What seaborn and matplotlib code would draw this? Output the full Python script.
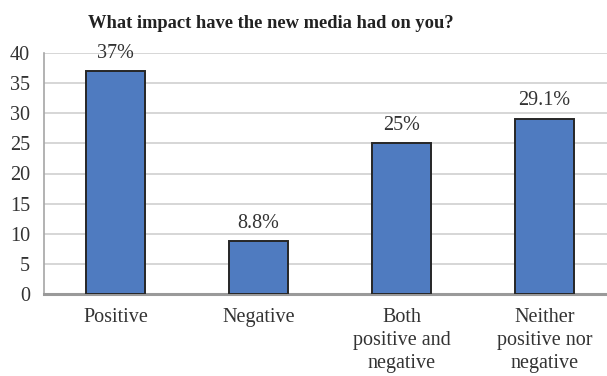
import matplotlib
matplotlib.use("Agg")
import matplotlib.pyplot as plt
import seaborn as sns
import pandas as pd

categories = ["Positive", "Negative", "Both\npositive and\nnegative", "Neither\npositive nor\nnegative"]
values = [37, 8.8, 25, 29.1]
value_labels = ["37%", "8.8%", "25%", "29.1%"]
y_ticks = [0, 5, 10, 15, 20, 25, 30, 35, 40]

sns.set_theme(style="white")
plt.rcParams["font.family"] = ["Liberation Serif", "DejaVu Serif"]

df = pd.DataFrame({"category": categories, "value": values})

fig = plt.figure(figsize=(6.07, 3.76), dpi=100)
ax = fig.add_axes([44 / 607, 82 / 376, 572 / 607, 241 / 376])

sns.barplot(data=df, x="category", y="value", ax=ax, color="#4F7BC0",
            saturation=1, width=0.41, edgecolor="#262626", linewidth=1.4, zorder=3)

ax.set_ylim(0, 40)
ax.set_xlim(-0.5, 3.5)
ax.set_yticks(y_ticks)
ax.set_yticklabels([str(t) for t in y_ticks], fontsize=14.5, color="#333333")
ax.tick_params(axis="x", labelsize=14.5, labelcolor="#333333", length=0, pad=10)
ax.tick_params(axis="y", length=0, pad=10)
for lbl in ax.get_xticklabels():
    lbl.set_linespacing(1.28)
ax.set_xlabel("")
ax.set_ylabel("")

ax.yaxis.grid(True, color="#d0d0d0", linewidth=1.2, zorder=0)
ax.set_axisbelow(True)
for side in ("top", "right"):
    ax.spines[side].set_visible(False)
ax.spines["left"].set_color("#a6a6a6")
ax.spines["left"].set_linewidth(1.2)
ax.spines["bottom"].set_color("#9a9a9a")
ax.spines["bottom"].set_linewidth(2.2)

ax.bar_label(ax.containers[0], labels=value_labels, padding=6, fontsize=14.5, color="#333333")

fig.text(271 / 607, 1 - 24 / 376, "What impact have the new media had on you?",
         ha="center", va="center", fontsize=13.3, fontweight="bold", color="#222222")

fig.savefig("out.png", dpi=100)
